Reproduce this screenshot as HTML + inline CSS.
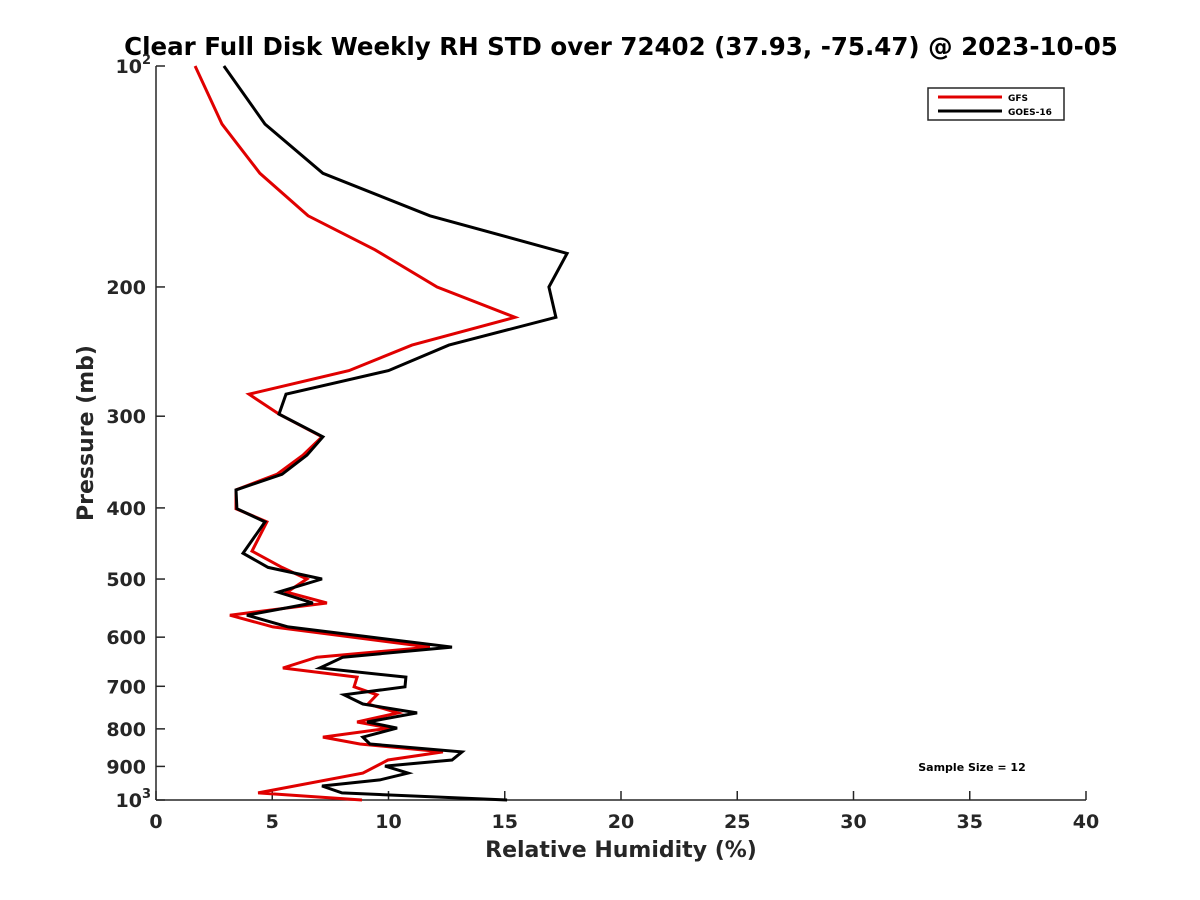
<!DOCTYPE html>
<html><head><meta charset="utf-8"><style>
body{margin:0;background:#fff;}
svg{display:block;font-family:"DejaVu Sans","Liberation Sans",sans-serif;}
</style></head><body>
<svg id="chart" width="1200" height="900" viewBox="0 0 1200 900">
<text x="621" y="55" text-anchor="middle" font-size="24.5" font-weight="bold" fill="#000">Clear Full Disk Weekly RH STD over 72402 (37.93, -75.47) @ 2023-10-05</text>
<g id="axes"></g>
<g id="series"></g>
<text x="621" y="857" text-anchor="middle" font-size="22" font-weight="bold" fill="#262626">Relative Humidity (%)</text>
<text transform="translate(93,433) rotate(-90)" text-anchor="middle" font-size="22" font-weight="bold" fill="#262626">Pressure (mb)</text>
<text x="972" y="771" text-anchor="middle" font-size="11" font-weight="bold" fill="#000">Sample Size = 12</text>
<g>
<rect x="928" y="88" width="136" height="32" fill="#fff" stroke="#262626" stroke-width="1.5"/>
<line x1="938" y1="97" x2="1002" y2="97" stroke="#e00000" stroke-width="3"/>
<text x="1008" y="101" font-size="9" font-weight="bold" fill="#000">GFS</text>
<line x1="938" y1="111" x2="1002" y2="111" stroke="#000" stroke-width="3"/>
<text x="1008" y="115" font-size="9" font-weight="bold" fill="#000">GOES-16</text>
</g>
</svg>
<script>
const xTicks = [0,5,10,15,20,25,30,35,40];
const yTicks = [100,200,300,400,500,600,700,800,900,1000];
const yTickLabels = ["10","200","300","400","500","600","700","800","900","10"];
const gfsPressure = [100,120,140,160,178,200,220,240,260,280,298,320,339,360,378,401,418,458,482,500,521,539,560,581,619,639,661,680,701,719,740,761,783,798,821,839,860,882,919,978,1000];
const gfsRH = [1.68,2.84,4.47,6.54,9.42,12.09,15.44,11.01,8.3,4.0,5.29,7.14,6.32,5.2,3.44,3.44,4.77,4.13,5.42,6.49,5.63,7.35,3.18,5.03,11.78,6.92,5.46,8.65,8.52,9.5,9.12,10.41,8.65,10.06,7.18,8.77,12.34,9.98,8.9,4.39,8.86];
const goesPressure = [100,120,140,160,180,200,220,240,260,280,298,320,339,360,378,401,418,461,482,500,521,539,560,581,619,639,661,680,701,719,740,761,783,798,821,839,860,882,899,919,939,957,978,1000];
const goesRH = [2.92,4.69,7.18,11.78,17.68,16.9,17.2,12.6,10.0,5.59,5.29,7.18,6.49,5.42,3.44,3.48,4.69,3.74,4.82,7.14,5.25,6.75,3.91,5.68,12.73,8.04,7.05,10.75,10.71,8.09,8.9,11.23,9.08,10.37,8.9,9.2,13.16,12.73,9.85,10.84,9.63,7.14,8.0,15.1];

const L=156,R=1086,T=66,B=800;
const xs=v=>L+(v-0)/(40-0)*(R-L);
const ys=p=>T+Math.log10(p/100)/Math.log10(1000/100)*(B-T);
const NS="http://www.w3.org/2000/svg";
function mk(tag,attrs,parent){const e=document.createElementNS(NS,tag);for(const k in attrs)e.setAttribute(k,attrs[k]);parent.appendChild(e);return e;}
const axes=document.getElementById('axes');
let e=mk('line',{x1:L,y1:B,x2:R,y2:B,stroke:'#262626','stroke-width':1.5},axes);


e=mk('line',{x1:L,y1:T,x2:L,y2:B,stroke:'#262626','stroke-width':1.5},axes);


xTicks.forEach(v=>{
  const x=xs(v);
  const t=mk('line',{x1:x,y1:B,x2:x,y2:B-9,stroke:'#262626','stroke-width':1.5},axes);
  
  
  const l=mk('text',{x:x,y:B+28,'text-anchor':'middle','font-size':19,'font-weight':'bold',fill:'#262626'},axes);
  l.textContent=v;
  
  
});
yTicks.forEach((p,i)=>{
  const y=ys(p);
  const t=mk('line',{x1:L,y1:y,x2:L+9,y2:y,stroke:'#262626','stroke-width':1.5},axes);
  
  
  const l=mk('text',{x:i===0||i===yTicks.length-1?L-14:L-10,y:y+7,'text-anchor':'end','font-size':19,'font-weight':'bold',fill:'#262626'},axes);
  l.textContent=yTickLabels[i];
  
  
  if(i===0||i===yTicks.length-1){
    const s=mk('text',{x:L-14,y:y-2,'font-size':13,'font-weight':'bold',fill:'#262626'},axes);
    s.textContent=i===0?'2':'3';
    
    
  }
});
const series=document.getElementById('series');
function draw(px,py,color,name){
  const pts=px.map((v,i)=>xs(v).toFixed(1)+','+ys(py[i]).toFixed(1)).join(' ');
  const pl=mk('polyline',{points:pts,fill:'none',stroke:color,'stroke-width':3,'stroke-linejoin':'miter'},series);
  
  
}
draw(gfsRH,gfsPressure,'#e00000','gfs-line');
draw(goesRH,goesPressure,'#000','goes16-line');
</script>
</body></html>
